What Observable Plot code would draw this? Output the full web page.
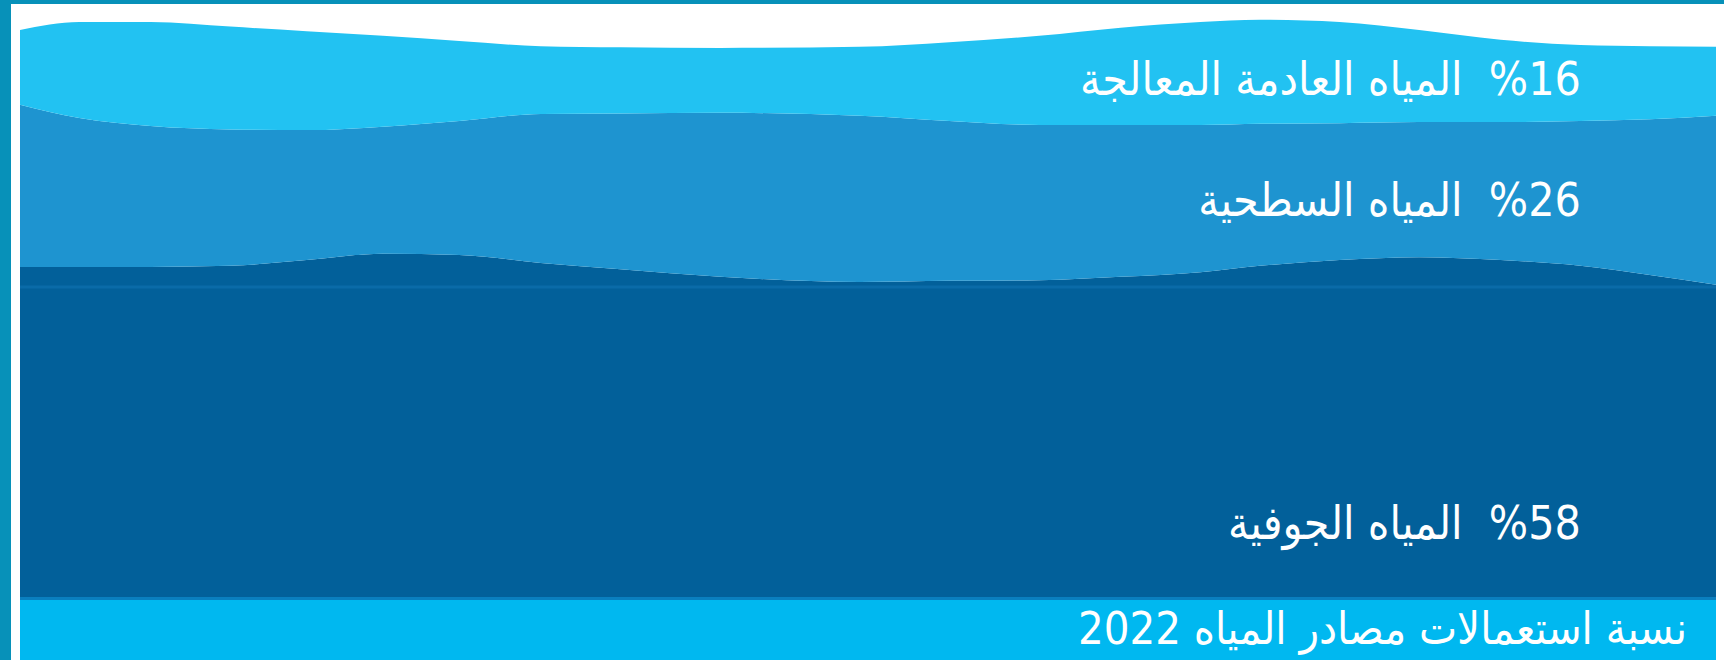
<!DOCTYPE html>
<html lang="ar">
<head>
<meta charset="utf-8">
<script src="https://cdn.jsdelivr.net/npm/d3@7"></script>
<script src="https://cdn.jsdelivr.net/npm/@observablehq/plot@0.6"></script>
<style>
  html, body { margin: 0; padding: 0; background: #ffffff; }
  #page { position: relative; width: 1724px; height: 660px; overflow: hidden; background: #ffffff; }
  #topStripe { position: absolute; left: 0; top: 0; width: 1724px; height: 4px; background: #0791b9; z-index: 3; }
  #leftStripe { position: absolute; left: 0; top: 0; width: 11px; height: 660px; background: #0791b9; z-index: 3; }
  #chart { position: absolute; left: 20px; top: 4px; width: 1696px; height: 596px; }
  #chart svg { background: transparent; display: block; }
  #caption {
    position: absolute; left: 20px; top: 597px; width: 1696px; height: 63px;
    box-sizing: border-box; border-top: 3px solid #0a7fbf; background: #00b8f0;
    color: #ffffff; font-family: "DejaVu Sans Condensed", "DejaVu Sans", sans-serif; font-stretch: condensed;
    font-size: 45px; line-height: 58px; direction: rtl; text-align: right; padding-right: 29px;
    white-space: nowrap; overflow: hidden;
  }
</style>
</head>
<body>
<div id="page">
  <div id="topStripe"></div>
  <div id="leftStripe"></div>
  <div id="chart"></div>
  <div id="caption"></div>
</div>
<script>
// Water sources and their 2022 shares (%)
const sources = ["المياه الجوفية", "المياه السطحية", "المياه العادمة المعالجة"];
const shares = [58, 26, 16];
const captionText = "نسبة استعمالات مصادر المياه 2022";

// Horizontal sample positions (% of width) at which layer thicknesses were read
const positions = [0, 3.5, 7.7, 12.4, 16.9, 21.4, 25.9, 30.7, 35.4, 41.3, 49.5, 54.8, 60.1, 64.9, 69.6, 73.1, 77.8, 82.5, 87.3, 92.0, 96.1, 100];
// Layer thickness (in % units)
const groundProfile  = [57.4, 57.4, 57.4, 57.6, 58.6, 59.7, 59.5, 58.1, 57.0, 55.7, 54.8, 55.0, 55.1, 55.7, 56.5, 57.6, 58.6, 59.1, 58.6, 57.6, 56.0, 54.3];
const surfaceProfile = [28.2, 25.9, 24.5, 23.7, 22.6, 22.1, 23.3, 25.9, 27.1, 28.5, 28.9, 27.8, 27.0, 26.4, 25.6, 24.7, 23.8, 23.5, 24.0, 25.2, 27.1, 29.4];
const treatedProfile = [13.0, 16.7, 18.1, 17.9, 17.2, 15.8, 13.9, 11.8, 11.5, 11.3, 12.0, 13.7, 15.5, 16.9, 17.9, 18.1, 17.6, 16.0, 14.3, 13.2, 12.7, 12.0];
const waveBase = [54];          // level of the thin line under the waves
const labelAt = 92.0;           // label column (% of width)

const colors = ["#02609a", "#1e94d0", "#22c2f2"];
const profiles = [groundProfile, surfaceProfile, treatedProfile];

const rows = [];
sources.forEach((s, i) => positions.forEach((p, j) => rows.push({source: s, pos: p, thickness: profiles[i][j]})));

// labels: placed inside each band at the label column
const li = positions.indexOf(labelAt);
const fracs = [0.22, 0.45, 0.54];
let base = 0;
const labels = sources.map((s, i) => {
  const t = profiles[i][li];
  const y = base + t * fracs[i];
  base += t;
  return {source: s, share: shares[i], pos: labelAt, y, text: `${s}  \u200E%${shares[i]}`};
});

const plot = Plot.plot({
  width: 1696,
  height: 596,
  marginLeft: 0,
  marginRight: 0,
  marginTop: 18,
  marginBottom: 3,
  x: {domain: [0, 100], axis: null},
  y: {domain: [0, 100], axis: null},
  color: {domain: sources, range: colors},
  style: {background: "transparent"},
  marks: [
    Plot.areaY(rows, {x: "pos", y: "thickness", fill: "source", curve: "monotone-x"}),
    Plot.ruleY(waveBase, {stroke: "#0a6ba8", strokeWidth: 3}),
    Plot.text(labels, {
      x: "pos", y: "y", text: "text", textAnchor: "end", lineAnchor: "middle",
      fill: "#ffffff", fontSize: 46, fontFamily: "DejaVu Sans Condensed, DejaVu Sans, sans-serif"
    })
  ]
});
plot.querySelectorAll("text").forEach(t => t.style.fontStretch = "condensed");
document.getElementById("chart").appendChild(plot);
document.getElementById("caption").textContent = captionText;
</script>
</body>
</html>
